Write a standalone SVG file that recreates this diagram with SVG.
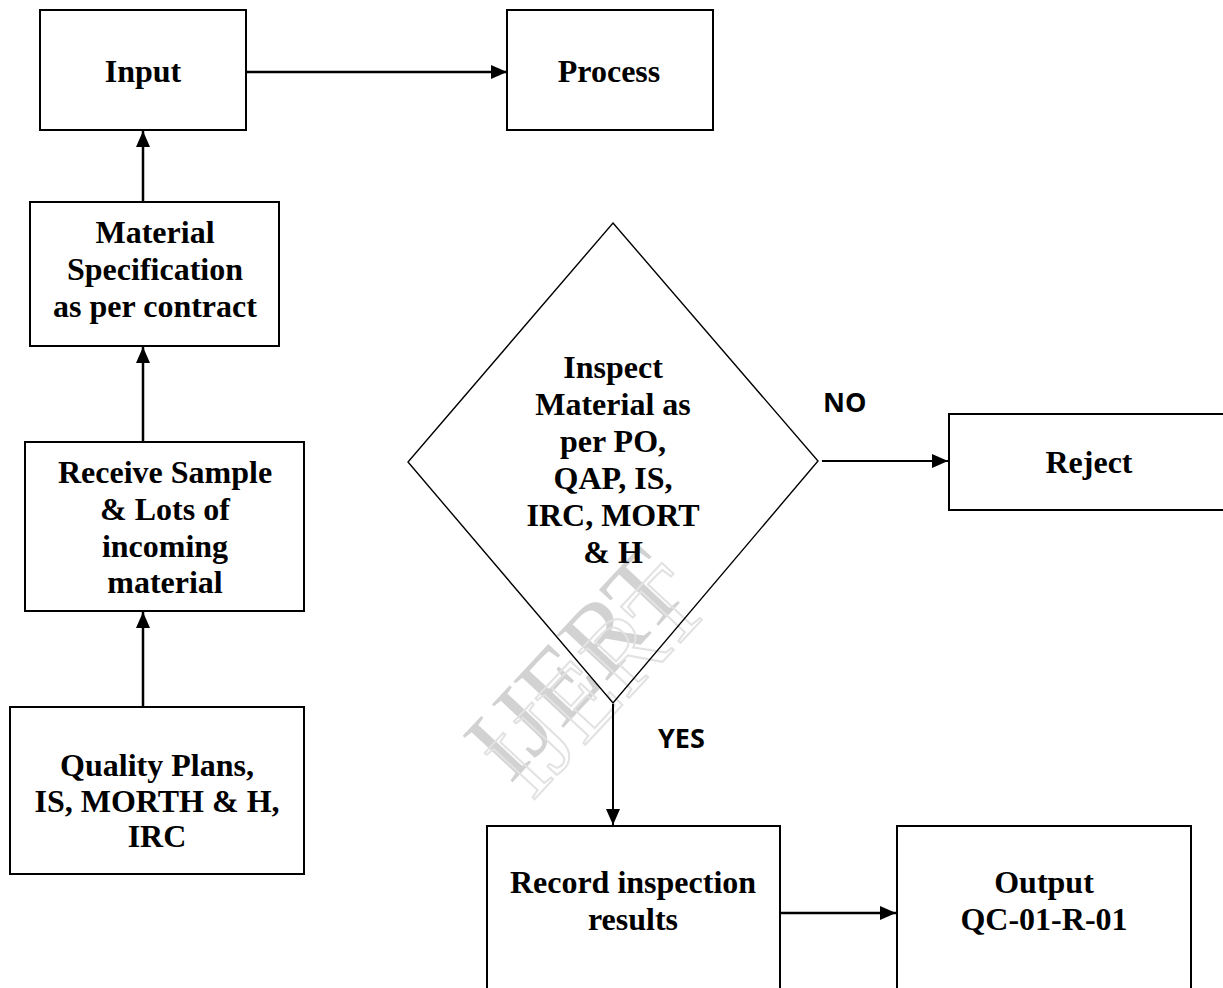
<svg xmlns="http://www.w3.org/2000/svg" width="1223" height="988" viewBox="0 0 1223 988">
  <style>
    .box { fill: none; stroke: #000; stroke-width: 2; }
    .dia { fill: none; stroke: #000; stroke-width: 1.4; }
    .t { font-family: "Liberation Serif", "Times New Roman", serif; font-weight: bold; font-size: 32px; fill: #000; text-anchor: middle; }
    .lbl { font-family: "Open Sans", "Liberation Sans", sans-serif; font-weight: bold; font-size: 27px; fill: #000; }
    .conn { stroke: #000; stroke-width: 2.5; fill: none; marker-end: url(#arr); }
    .wm { font-family: "Liberation Serif", "Times New Roman", serif; font-size: 104px; }
  </style>
  <defs>
    <marker id="arr" markerUnits="userSpaceOnUse" markerWidth="16" markerHeight="14" refX="16" refY="7" orient="auto">
      <path d="M0,0 L16,7 L0,14 Z" fill="#000"/>
    </marker>
  </defs>
  <rect width="1223" height="988" fill="#fff"/>

  <g id="watermark">
    <text class="wm" x="510" y="785" fill="#d2d2d2" transform="rotate(-47 510 785)">IJERT</text>
    <text class="wm" x="532" y="802" fill="none" stroke="#e2e2e2" stroke-width="2" transform="rotate(-47 532 802)">IJERT</text>
  </g>

  <g id="input">
    <rect class="box" x="40" y="10" width="206" height="120"/>
    <text class="t" x="143" y="82">Input</text>
  </g>
  <g id="process">
    <rect class="box" x="507" y="10" width="206" height="120"/>
    <text class="t" x="609" y="82">Process</text>
  </g>
  <g id="material-spec">
    <rect class="box" x="30" y="202" width="249" height="144"/>
    <text class="t" x="155" y="243">Material</text>
    <text class="t" x="155" y="280">Specification</text>
    <text class="t" x="155" y="317">as per contract</text>
  </g>
  <g id="receive">
    <rect class="box" x="25" y="442" width="279" height="169"/>
    <text class="t" x="165" y="483">Receive Sample</text>
    <text class="t" x="165" y="520">&amp; Lots of</text>
    <text class="t" x="165" y="557">incoming</text>
    <text class="t" x="165" y="593">material</text>
  </g>
  <g id="quality">
    <rect class="box" x="10" y="707" width="294" height="167"/>
    <text class="t" x="157" y="776">Quality Plans,</text>
    <text class="t" x="157" y="812">IS, MORTH &amp; H,</text>
    <text class="t" x="157" y="847">IRC</text>
  </g>
  <g id="inspect">
    <polygon class="dia" points="613,223 818,461 613,703 408,462"/>
    <text class="t" x="613" y="378">Inspect</text>
    <text class="t" x="613" y="415">Material as</text>
    <text class="t" x="613" y="452">per PO,</text>
    <text class="t" x="613" y="489">QAP, IS,</text>
    <text class="t" x="613" y="526">IRC, MORT</text>
    <text class="t" x="613" y="563">&amp; H</text>
  </g>
  <g id="reject">
    <rect class="box" x="949" y="414" width="300" height="96"/>
    <text class="t" x="1089" y="473">Reject</text>
  </g>
  <g id="record">
    <rect class="box" x="487" y="826" width="293" height="200"/>
    <text class="t" x="633" y="893">Record inspection</text>
    <text class="t" x="633" y="930">results</text>
  </g>
  <g id="output">
    <rect class="box" x="897" y="826" width="294" height="200"/>
    <text class="t" x="1044" y="893">Output</text>
    <text class="t" x="1044" y="930">QC-01-R-01</text>
  </g>

  <g id="connectors">
    <line class="conn" x1="246" y1="72" x2="507" y2="72"/>
    <line class="conn" x1="143" y1="202" x2="143" y2="131"/>
    <line class="conn" x1="143" y1="442" x2="143" y2="347"/>
    <line class="conn" x1="143" y1="707" x2="143" y2="612"/>
    <line class="conn" x1="822" y1="461" x2="948" y2="461" style="stroke-width:2"/>
    <line class="conn" x1="613" y1="704" x2="613" y2="825" style="stroke-width:2"/>
    <line class="conn" x1="780" y1="913" x2="896" y2="913"/>
    <text class="lbl" x="823" y="412">NO</text>
    <text class="lbl" x="658" y="748">YES</text>
  </g>
</svg>
